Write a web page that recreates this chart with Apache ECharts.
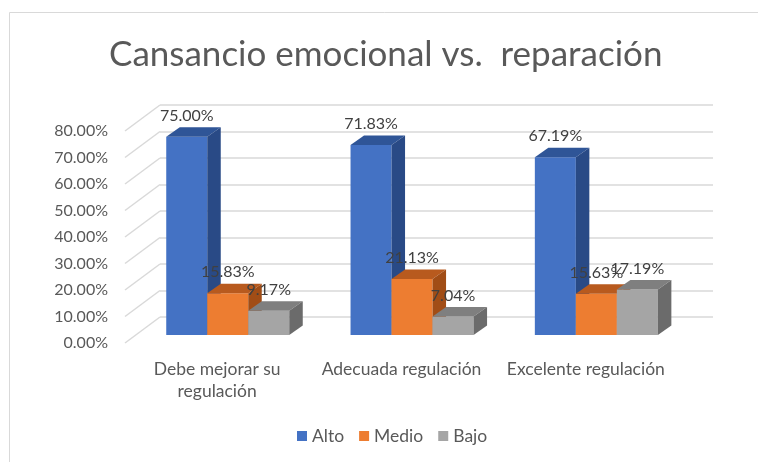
<!DOCTYPE html>
<html>
<head>
<meta charset="utf-8">
<title>Cansancio emocional vs. reparación</title>
<script src="https://cdn.jsdelivr.net/npm/echarts@6/dist/echarts.min.js"></script>
<style>
  html, body { margin: 0; padding: 0; background: #fff; }
  #main { width: 758px; height: 462px; }
</style>
</head>
<body>
<div id="main"></div>
<script>
// datos
const categories = ['Debe mejorar su\nregulación', 'Adecuada regulación', 'Excelente regulación'];
const seriesNames = ['Alto', 'Medio', 'Bajo'];
const alto = [75.00, 71.83, 67.19];
const medio = [15.83, 21.13, 15.63];
const bajo = [9.17, 7.04, 17.19];
const yTicks = [0, 10, 20, 30, 40, 50, 60, 70, 80];

const FONT = 'Lato, "Open Sans", sans-serif';
// caras del 3D: frente, arriba, lado
const palette = [
  { front: '#4472C4', top: '#2F5597', side: '#294A86' },
  { front: '#ED7D31', top: '#B85A1E', side: '#A14D16' },
  { front: '#A5A5A5', top: '#7F7F7F', side: '#6B6B6B' }
];
const BAR_DX = 13.5, BAR_DY = -9.5;   // profundidad de cada barra
const WALL_DX = 35, WALL_DY = -26;    // pared lateral izquierda

const chart = echarts.init(document.getElementById('main'), null, { renderer: 'canvas' });

function barRender(k) {
  const c = palette[k];
  return function (params, api) {
    const cat = api.value(0);
    const val = api.value(1);
    const base = api.coord([cat, 0]);
    const top = api.coord([cat, val]);
    const band = api.size([1, 0])[0];
    const w = band * 0.2225;
    const x0 = base[0] - 1.5 * w + k * w;
    const x1 = x0 + w;
    const y0 = top[1];
    const y1 = base[1];
    return {
      type: 'group',
      children: [
        { type: 'rect', z2: k * 3, shape: { x: x0, y: y0, width: w, height: y1 - y0 }, style: { fill: c.front } },
        { type: 'polygon', z2: k * 3 + 1, shape: { points: [[x0, y0], [x1, y0], [x1 + BAR_DX, y0 + BAR_DY], [x0 + BAR_DX, y0 + BAR_DY]] }, style: { fill: c.top } },
        { type: 'polygon', z2: k * 3 + 2, shape: { points: [[x1, y0], [x1 + BAR_DX, y0 + BAR_DY], [x1 + BAR_DX, y1 + BAR_DY], [x1, y1]] }, style: { fill: c.side } },
        {
          type: 'text', z2: 100, x: (x0 + x1) / 2, y: y0 - 21,
          style: { text: val.toFixed(2) + '%', fill: '#404040', font: '16px ' + FONT, align: 'center', verticalAlign: 'middle' }
        }
      ]
    };
  };
}

function wallRender(params, api) {
  const y = api.coord([0, api.value(1)])[1];
  const x = params.coordSys.x;
  return {
    type: 'line',
    shape: { x1: x, y1: y, x2: x + WALL_DX, y2: y + WALL_DY },
    style: { stroke: '#d9d9d9', lineWidth: 1.5 }
  };
}

const seriesData = [alto, medio, bajo];

const option = {
  backgroundColor: '#ffffff',
  animation: false,
  title: {
    text: 'Cansancio emocional vs.  reparación',
    left: 109,
    top: 37,
    padding: 0,
    textStyle: { fontFamily: FONT, fontSize: 35, fontWeight: 'normal', color: '#595959' }
  },
  legend: {
    data: seriesNames,
    left: 297,
    top: 427,
    padding: 0,
    icon: 'rect',
    itemWidth: 10,
    itemHeight: 10,
    itemGap: 15,
    textStyle: { fontFamily: FONT, fontSize: 17.5, color: '#595959' }
  },
  graphic: [
    { type: 'rect', silent: true, shape: { x: 9.5, y: 12.5, width: 800, height: 500 }, style: { fill: null, stroke: '#d9d9d9', lineWidth: 1 } }
  ],
  grid: [
    // plano frontal: etiquetas de ejes
    { left: 125, right: 80, top: 131, bottom: 119 },
    // plano de las barras
    { left: 135.6, right: 69.5, top: 123.4, bottom: 127 },
    // pared del fondo
    { left: 160, right: 45, top: 105, bottom: 145 }
  ],
  xAxis: [
    {
      gridIndex: 0, type: 'category', data: categories,
      axisLine: { show: false }, axisTick: { show: false },
      axisLabel: { interval: 0, margin: 15, fontFamily: FONT, fontSize: 17.5, lineHeight: 22.5, color: '#595959' }
    },
    { gridIndex: 1, type: 'category', data: categories, show: false },
    { gridIndex: 2, type: 'value', show: false }
  ],
  yAxis: [
    {
      gridIndex: 0, type: 'value', min: 0, max: 80, interval: 10,
      axisLine: { show: false }, axisTick: { show: false }, splitLine: { show: false },
      axisLabel: { margin: 17, fontFamily: FONT, fontSize: 16, color: '#595959', formatter: v => v.toFixed(2) + '%' }
    },
    { gridIndex: 1, type: 'value', min: 0, max: 80, interval: 10, show: false },
    {
      gridIndex: 2, type: 'value', min: 0, max: 80, interval: 10,
      axisLine: { show: false }, axisTick: { show: false }, axisLabel: { show: false },
      splitLine: { show: true, lineStyle: { color: '#d9d9d9', width: 1.5 } }
    }
  ],
  series: [
    {
      type: 'custom', name: 'pared', xAxisIndex: 0, yAxisIndex: 0, silent: true,
      renderItem: wallRender,
      data: yTicks.map(v => [0, v])
    }
  ].concat(seriesNames.map((name, k) => ({
    type: 'custom',
    name: name,
    xAxisIndex: 1,
    yAxisIndex: 1,
    silent: true,
    itemStyle: { color: palette[k].front },
    renderItem: barRender(k),
    data: seriesData[k].map((v, i) => [i, v])
  })))
};

chart.setOption(option);
</script>
</body>
</html>
